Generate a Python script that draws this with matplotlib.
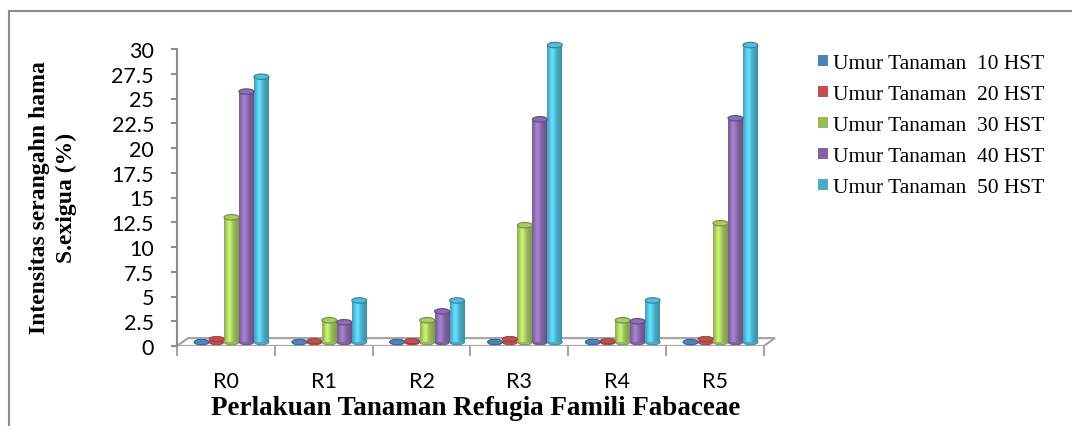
import numpy as np
import matplotlib
matplotlib.use("Agg")
import matplotlib.pyplot as plt
from matplotlib.patches import Ellipse, Polygon, Patch
from matplotlib.lines import Line2D
from matplotlib.colors import to_rgb

# Intensitas serangan per perlakuan dan umur tanaman
perlakuan = ["R0", "R1", "R2", "R3", "R4", "R5"]
umur_labels = ["Umur Tanaman  10 HST", "Umur Tanaman  20 HST", "Umur Tanaman  30 HST",
               "Umur Tanaman  40 HST", "Umur Tanaman  50 HST"]
hst_10 = [0.0, 0.0, 0.0, 0.0, 0.0, 0.0]
hst_20 = [0.3, 0.1, 0.1, 0.3, 0.1, 0.3]
hst_30 = [12.6, 2.2, 2.2, 11.8, 2.2, 12.0]
hst_40 = [25.3, 2.0, 3.1, 22.5, 2.1, 22.6]
hst_50 = [26.8, 4.2, 4.2, 30.0, 4.2, 30.0]
y_ticks = [0, 2.5, 5, 7.5, 10, 12.5, 15, 17.5, 20, 22.5, 25, 27.5, 30]

colors = ["#4F81BD", "#C0504D", "#9BBB59", "#8064A2", "#4BACC6"]
series = [hst_10, hst_20, hst_30, hst_40, hst_50]

W, H = 1072, 427
fig = plt.figure(figsize=(W / 100, H / 100), dpi=100)
ax = fig.add_axes([177 / W, (H - 347) / H, 600 / W, 297 / H])

depth_x, depth_y = 0.115, 0.8   # floor depth offset
bar_w = 0.153
base = depth_y / 2
shift = depth_x / 2


def shade(color, n=40):
    c = np.array(to_rgb(color))
    t = np.linspace(0, 1, n)
    # light band left of centre, darker towards both edges
    f = 1.0 + 0.3 * np.exp(-((t - 0.35) / 0.22) ** 2) - 0.35 * np.abs(t - 0.4) ** 1.5
    rgb = np.clip(c[None, :] * f[:, None], 0, 1)
    return rgb[None, :, :]


# floor of the 3-D plot
floor = Polygon([(-0.5, 0), (5.5, 0), (5.5 + depth_x, depth_y), (-0.5 + depth_x, depth_y)],
                closed=True, facecolor="white", edgecolor="#a6a6a6", lw=1.6, zorder=1)
ax.add_patch(floor)

x = np.arange(len(perlakuan))
n_ser = len(series)
for i, (vals, col) in enumerate(zip(series, colors)):
    offs = (i - (n_ser - 1) / 2) * bar_w + shift
    for xi, v in zip(x, vals):
        xc = xi + offs
        x0, x1 = xc - bar_w / 2, xc + bar_w / 2
        dark = np.array(to_rgb(col)) * 0.75
        light = np.clip(np.array(to_rgb(col)) * 1.1, 0, 1)
        # rounded bottom
        ax.add_patch(Ellipse((xc, base), bar_w, 0.55, facecolor=col,
                             edgecolor=dark, lw=0.6, zorder=3, clip_on=False))
        if v > 0.4:
            ax.imshow(shade(col), extent=[x0, x1, base, base + v], aspect="auto",
                      interpolation="bilinear", zorder=4, clip_on=False)
            ax.add_patch(Ellipse((xc, base + v), bar_w, 0.55, facecolor=light,
                                 edgecolor=dark, lw=0.8, zorder=5, clip_on=False))
        else:
            ax.add_patch(Ellipse((xc, base + v), bar_w, 0.55, facecolor=col,
                                 edgecolor=dark, lw=0.6, zorder=5, clip_on=False))

ax.set_xlim(-0.5, 5.5 + 0.135)
ax.set_ylim(0, 30)
ax.set_aspect("auto")

for side in ["top", "right", "bottom"]:
    ax.spines[side].set_visible(False)
ax.spines["left"].set_color("#8c8c8c")
ax.spines["left"].set_linewidth(1.5)

tick_font = {"family": "Lato", "size": 15.5}
ax.set_yticks(y_ticks)
ax.set_yticklabels([f"{t:g}" for t in y_ticks], fontdict=tick_font)
ax.tick_params(axis="y", length=4.5, width=1.5, color="#8c8c8c", pad=12)

ax.set_xticks(x)
ax.set_xticklabels(perlakuan, fontdict=tick_font)
ax.set_xticks(np.arange(-0.5, 6, 1), minor=True)
ax.tick_params(axis="x", which="major", length=0, pad=18)
ax.tick_params(axis="x", which="minor", length=7, width=1.5, color="#a6a6a6")

fig.text(476 / W, 1 - 409 / H, "Perlakuan Tanaman Refugia Famili Fabaceae",
         ha="center", va="center", fontsize=19.5, fontweight="bold",
         family="Liberation Serif")
fig.text(53 / W, 1 - 198 / H, "Intensitas serangahn hama\nS.exigua (%)",
         ha="center", va="center", rotation=90, fontsize=17, fontweight="bold",
         family="Liberation Serif", multialignment="center", linespacing=1.35)

handles = [Patch(facecolor=c, edgecolor="none") for c in colors]
ax.legend(handles, umur_labels, loc="upper left", bbox_to_anchor=(818 / W, 1 - 55 / H),
          bbox_transform=fig.transFigure, frameon=False, borderpad=0, borderaxespad=0,
          handlelength=0.45, handleheight=0.45, handletextpad=0.25, labelspacing=0.56,
          prop={"family": "Liberation Serif", "size": 15.5})

# outer frame of the chart area
fig.add_artist(Line2D([8.5 / W, 8.5 / W], [0, 1 - 12 / H], color="#8c8c8c", lw=1.5))
fig.add_artist(Line2D([8.5 / W, 1], [1 - 12 / H, 1 - 12 / H], color="#8c8c8c", lw=1.5))

fig.savefig("out.png", dpi=100)
